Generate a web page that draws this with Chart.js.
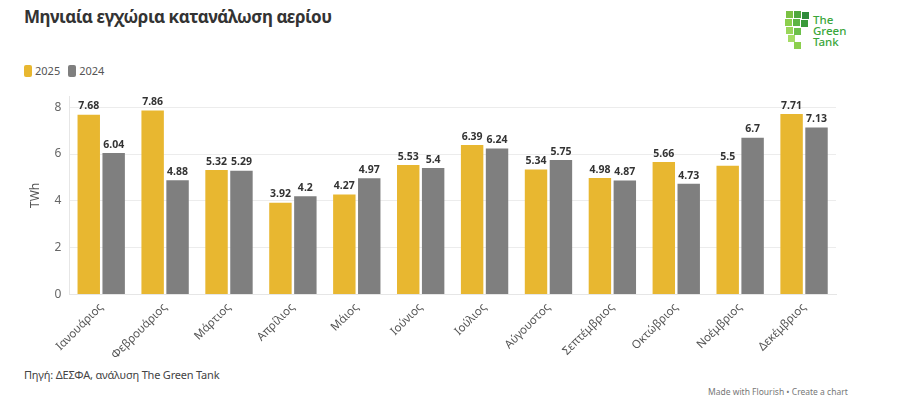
<!DOCTYPE html>
<html>
<head>
<meta charset="utf-8">
<script src="https://cdn.jsdelivr.net/npm/chart.js@4"></script>
<style>
  html, body { margin: 0; padding: 0; background: #fff; }
  body { width: 899px; height: 406px; position: relative; overflow: hidden; font-family: "Noto Sans", "Open Sans", sans-serif; }
  #title { position: absolute; left: 24px; top: 5px; font-size: 17px; font-weight: 700; color: #333; letter-spacing: -0.45px; }
  #legend { position: absolute; left: 24px; top: 63px; font-size: 11px; color: #555; display: flex; gap: 8px; }
  #legend span.sw { display: inline-block; width: 8px; height: 12px; border-radius: 2px; vertical-align: -2px; margin-right: 3px; }
  #wrap { position: absolute; left: 0; top: 81px; width: 838px; height: 283px; }
  #source { position: absolute; left: 24px; top: 367px; font-size: 11px; color: #444; letter-spacing: -0.2px; }
  #made { position: absolute; left: 708px; top: 386px; font-size: 8.5px; color: #777; }
  #logo { position: absolute; left: 784px; top: 8px; width: 70px; height: 45px; }
  #logo .t { position: absolute; left: 29px; top: 6px; font-size: 11.5px; line-height: 11px; color: #3aa63a; font-weight: 500; }
  #logo .sq { position: absolute; width: 7px; height: 7px; }
</style>
</head>
<body>
<div id="title">Μηνιαία εγχώρια κατανάλωση αερίου</div>
<div id="logo">
  <div class="sq" style="left:2px;top:3px;background:#7bc143"></div>
  <div class="sq" style="left:10px;top:3px;background:#4fa83d"></div>
  <div class="sq" style="left:18px;top:4px;background:#2e8b3a"></div>
  <div class="sq" style="left:1px;top:11px;background:#8ccf4d"></div>
  <div class="sq" style="left:9px;top:11px;background:#5db544"></div>
  <div class="sq" style="left:17px;top:12px;background:#3a9a3a"></div>
  <div class="sq" style="left:2px;top:19px;background:#9ad65a"></div>
  <div class="sq" style="left:10px;top:20px;background:#6cc04a"></div>
  <div class="sq" style="left:4px;top:27px;background:#a5dc66"></div>
  <div class="sq" style="left:10px;top:34px;background:#8ccf4d"></div>
  <div class="t">The<br>Green<br>Tank</div>
</div>
<div id="legend">
  <div><span class="sw" style="background:#E8B730"></span>2025</div>
  <div><span class="sw" style="background:#7F7F7F"></span>2024</div>
</div>
<div id="wrap"><canvas id="chart"></canvas></div>
<div id="source">Πηγή: ΔΕΣΦΑ, ανάλυση The Green Tank</div>
<div id="made">Made with Flourish • Create a chart</div>

<script>
// months, values in TWh
const months = ['Ιανουάριος', 'Φεβρουάριος', 'Μάρτιος', 'Απρίλιος', 'Μάιος', 'Ιούνιος',
  'Ιούλιος', 'Αύγουστος', 'Σεπτέμβριος', 'Οκτώβριος', 'Νοέμβριος', 'Δεκέμβριος'];
const values2025 = [7.68, 7.86, 5.32, 3.92, 4.27, 5.53, 6.39, 5.34, 4.98, 5.66, 5.5, 7.71];
const values2024 = [6.04, 4.88, 5.29, 4.2, 4.97, 5.4, 6.24, 5.75, 4.87, 4.73, 6.7, 7.13];
const yTicks = [0, 2, 4, 6, 8];

// draw the value above each bar
const barLabels = {
  id: 'barLabels',
  afterDatasetsDraw(chart) {
    const ctx = chart.ctx;
    ctx.save();
    ctx.font = 'bold 10.5px "Noto Sans", sans-serif';
    ctx.fillStyle = '#333';
    ctx.textAlign = 'center';
    ctx.textBaseline = 'bottom';
    chart.data.datasets.forEach((ds, i) => {
      chart.getDatasetMeta(i).data.forEach((bar, j) => {
        ctx.fillText(String(ds.data[j]), bar.x, bar.y - 3);
      });
    });
    ctx.restore();
  }
};

new Chart(document.getElementById('chart'), {
  type: 'bar',
  data: {
    labels: months,
    datasets: [
      { label: '2025', data: values2025, backgroundColor: '#E8B730' },
      { label: '2024', data: values2024, backgroundColor: '#7F7F7F' }
    ]
  },
  options: {
    responsive: true,
    maintainAspectRatio: false,
    animation: false,
    layout: { padding: { left: 24, right: 2, top: 0, bottom: 0 } },
    datasets: { bar: { barPercentage: 0.9, categoryPercentage: 0.78 } },
    plugins: { legend: { display: false }, tooltip: { enabled: false } },
    scales: {
      x: {
        grid: { display: false, drawTicks: true, tickLength: 4 },
        border: { color: '#e6e6e6' },
        ticks: { color: '#555', font: { size: 11.5, family: '"Noto Sans", sans-serif' }, maxRotation: 45, minRotation: 45, padding: 2 }
      },
      y: {
        min: 0,
        max: 8.47,
        afterBuildTicks: axis => { axis.ticks = yTicks.map(v => ({ value: v })); },
        grid: { color: '#ececec', drawTicks: false },
        border: { color: '#e6e6e6' },
        title: { display: true, text: 'TWh', color: '#555', font: { size: 12, family: '"Noto Sans", sans-serif' }, padding: 4 },
        ticks: { color: '#666', font: { size: 12, family: '"Noto Sans", sans-serif' }, padding: 8 }
      }
    }
  },
  plugins: [barLabels]
});
</script>
</body>
</html>
